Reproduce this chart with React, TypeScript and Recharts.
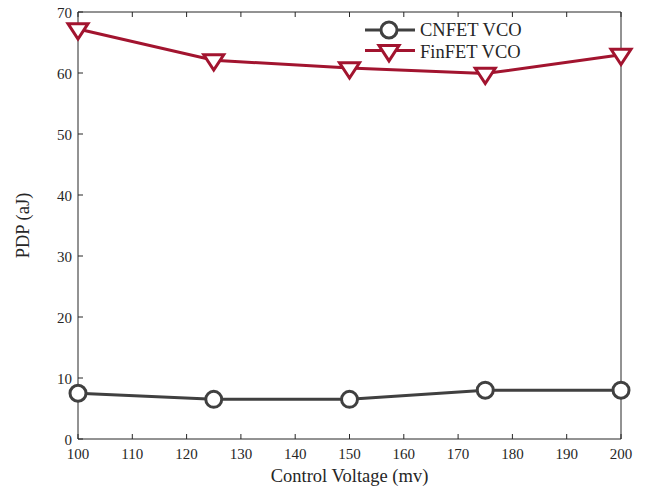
import React from "react";
import { LineChart, Line, XAxis, YAxis } from "recharts";

const voltages = [100, 125, 150, 175, 200];
const cnfetPdp = [7.5, 6.5, 6.5, 8.0, 8.0];
const finfetPdp = [67.2, 62.1, 60.8, 59.9, 63.0];
const xTicks = [100, 110, 120, 130, 140, 150, 160, 170, 180, 190, 200];
const yTicks = [0, 10, 20, 30, 40, 50, 60, 70];
const seriesNames = ["CNFET VCO", "FinFET VCO"];

const data = voltages.map((v, i) => ({ v, cnfet: cnfetPdp[i], finfet: finfetPdp[i] }));

const FONT = "'Liberation Serif', 'Times New Roman', serif";
const AXIS = "#262626";
const C_CN = "#404040";
const C_FIN = "#A2142F";

const triPoints = (cx: number, cy: number) => {
  const w = 10, h = 9;
  return `${cx - w},${cy - h * 0.6} ${cx + w},${cy - h * 0.6} ${cx},${cy + h * 1.1}`;
};

const CircleDot = (props: any) => {
  const { cx, cy } = props;
  if (cx == null || cy == null) return null;
  return <circle cx={cx} cy={cy} r={8} fill="#fff" stroke={C_CN} strokeWidth={3} />;
};

const TriDot = (props: any) => {
  const { cx, cy } = props;
  if (cx == null || cy == null) return null;
  return <polygon points={triPoints(cx, cy)} fill="#fff" stroke={C_FIN} strokeWidth={3} />;
};

const BottomTick = (props: any) => {
  const { x, y, payload } = props;
  return (
    <g>
      <line x1={x} y1={y} x2={x} y2={y - 5} stroke={AXIS} strokeWidth={1} />
      <text x={x} y={y + 20} textAnchor="middle" fontFamily={FONT} fontSize={15} fill={AXIS}>
        {payload.value}
      </text>
    </g>
  );
};

const TopTick = (props: any) => {
  const { x, y } = props;
  return <line x1={x} y1={y} x2={x} y2={y + 5} stroke={AXIS} strokeWidth={1} />;
};

const LeftTick = (props: any) => {
  const { x, y, payload } = props;
  return (
    <g>
      <line x1={x} y1={y} x2={x + 5} y2={y} stroke={AXIS} strokeWidth={1} />
      <text x={x - 6} y={y + 5.5} textAnchor="end" fontFamily={FONT} fontSize={15} fill={AXIS}>
        {payload.value}
      </text>
    </g>
  );
};

const RightTick = (props: any) => {
  const { x, y } = props;
  return <line x1={x} y1={y} x2={x - 5} y2={y} stroke={AXIS} strokeWidth={1} />;
};

const LegendBox = () => (
  <svg width={200} height={50} style={{ position: "absolute", left: 355, top: 15 }}>
    <g>
      <line x1={10} y1={15} x2={60} y2={15} stroke={C_CN} strokeWidth={3} />
      <circle cx={34} cy={15} r={8} fill="#fff" stroke={C_CN} strokeWidth={3} />
      <text x={65} y={21} fontFamily={FONT} fontSize={18.5} fill={AXIS}>{seriesNames[0]}</text>
    </g>
    <g>
      <line x1={10} y1={35.5} x2={60} y2={35.5} stroke={C_FIN} strokeWidth={3} />
      <polygon points={triPoints(34, 36)} fill="#fff" stroke={C_FIN} strokeWidth={3} />
      <text x={65} y={42.5} fontFamily={FONT} fontSize={18.5} fill={AXIS}>{seriesNames[1]}</text>
    </g>
  </svg>
);

export default function App() {
  return (
    <div style={{ position: "absolute", left: 0, top: 0, width: 647, height: 490, background: "#fff" }}>
      <LineChart width={647} height={490} data={data} margin={{ top: 11, right: 25, left: 38, bottom: 0 }}>
        <XAxis
          dataKey="v"
          type="number"
          domain={[100, 200]}
          ticks={xTicks}
          interval={0}
          tickSize={0}
          tickMargin={0}
          height={51}
          stroke={AXIS}
          tick={<BottomTick />}
          label={{ value: "Control Voltage (mv)", position: "insideBottom", offset: 8, fontFamily: FONT, fontSize: 18.5, fill: AXIS }}
        />
        <XAxis
          xAxisId="top"
          orientation="top"
          dataKey="v"
          type="number"
          domain={[100, 200]}
          ticks={xTicks}
          interval={0}
          tickSize={0}
          tickMargin={0}
          height={1}
          stroke={AXIS}
          tick={<TopTick />}
        />
        <YAxis
          type="number"
          domain={[0, 70]}
          ticks={yTicks}
          interval={0}
          tickSize={0}
          tickMargin={0}
          width={40}
          stroke={AXIS}
          tick={<LeftTick />}
          label={{ value: "PDP (aJ)", angle: -90, position: "insideLeft", offset: -16, fontFamily: FONT, fontSize: 18.5, fill: AXIS, style: { textAnchor: "middle" } }}
        />
        <YAxis
          yAxisId="right"
          orientation="right"
          type="number"
          domain={[0, 70]}
          ticks={yTicks}
          interval={0}
          tickSize={0}
          tickMargin={0}
          width={1}
          stroke={AXIS}
          tick={<RightTick />}
        />
        <Line
          type="linear"
          dataKey="cnfet"
          name={seriesNames[0]}
          stroke={C_CN}
          strokeWidth={3}
          dot={<CircleDot />}
          activeDot={false}
          isAnimationActive={false}
        />
        <Line
          type="linear"
          dataKey="finfet"
          name={seriesNames[1]}
          stroke={C_FIN}
          strokeWidth={3}
          dot={<TriDot />}
          activeDot={false}
          isAnimationActive={false}
        />
      </LineChart>
      <LegendBox />
    </div>
  );
}
